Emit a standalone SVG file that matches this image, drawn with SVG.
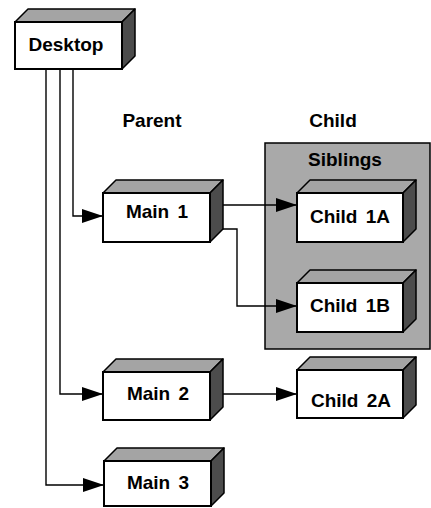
<svg xmlns="http://www.w3.org/2000/svg" width="431" height="508" viewBox="0 0 431 508">
  <defs>
    <marker id="arrow" viewBox="0 0 21 14" refX="21" refY="7" markerWidth="21" markerHeight="14" markerUnits="userSpaceOnUse" orient="auto">
      <path d="M0,0 L21,7 L0,14 Z" fill="#000"/>
    </marker>
  </defs>
  <style>
    .front { fill: #fff; stroke: #000; stroke-width: 2; }
    .top { fill: #a4a4a4; stroke: #000; stroke-width: 1.5; stroke-linejoin: round; }
    .side { fill: #4c4c4c; stroke: #000; stroke-width: 1.5; stroke-linejoin: round; }
    .panel { fill: #a9a9a9; stroke: #000; stroke-width: 1.5; }
    .label { font-family: "Liberation Sans", Arial, sans-serif; font-weight: bold; font-size: 19px; fill: #000; text-anchor: middle; word-spacing: 3px; }
    .wire { fill: none; stroke: #000; stroke-width: 1.4; marker-end: url(#arrow); }
  </style>

  <rect width="431" height="508" fill="#fff"/>

  <!-- sibling grouping panel -->
  <g id="siblings">
    <rect class="panel" x="265" y="143" width="165" height="206"/>
    <text class="label" x="345" y="166" fill="#111">Siblings</text>
  </g>

  <!-- column headings -->
  <g id="headings">
    <text class="label" x="152" y="127">Parent</text>
    <text class="label" x="333" y="127">Child</text>
  </g>

  <!-- connectors -->
  <g id="connectors">
    <path class="wire" d="M46,69 V485 H104"/>
    <path class="wire" d="M60,69 V394 H103"/>
    <path class="wire" d="M73,69 V216 H103"/>
    <path class="wire" d="M223,205 H297"/>
    <path class="wire" d="M223,229 H237 V306 H297"/>
    <path class="wire" d="M223,394 H297"/>
  </g>

  <!-- boxes: top face, right face, front face, label -->
  <g id="desktop">
    <path class="top" d="M15,22 L28,9 L135,9 L122,22 Z"/>
    <path class="side" d="M122,22 L135,9 L135,56 L122,69 Z"/>
    <rect class="front" x="15" y="22" width="107" height="47"/>
    <text class="label" x="66" y="51">Desktop</text>
  </g>

  <g id="main1">
    <path class="top" d="M103,193 L116,180 L223,180 L210,193 Z"/>
    <path class="side" d="M210,193 L223,180 L223,229 L210,242 Z"/>
    <rect class="front" x="103" y="193" width="107" height="49"/>
    <text class="label" x="157" y="218">Main 1</text>
  </g>

  <g id="main2">
    <path class="top" d="M103,372 L116,359 L223,359 L210,372 Z"/>
    <path class="side" d="M210,372 L223,359 L223,407 L210,420 Z"/>
    <rect class="front" x="103" y="372" width="107" height="48"/>
    <text class="label" x="158" y="400">Main 2</text>
  </g>

  <g id="main3">
    <path class="top" d="M104,461 L117,448 L224,448 L211,461 Z"/>
    <path class="side" d="M211,461 L224,448 L224,493 L211,506 Z"/>
    <rect class="front" x="104" y="461" width="107" height="45"/>
    <text class="label" x="158" y="489">Main 3</text>
  </g>

  <g id="child1a">
    <path class="top" d="M297,193 L310,180 L416,180 L403,193 Z"/>
    <path class="side" d="M403,193 L416,180 L416,229 L403,242 Z"/>
    <rect class="front" x="297" y="193" width="106" height="49"/>
    <text class="label" x="350" y="223">Child 1A</text>
  </g>

  <g id="child1b">
    <path class="top" d="M297,283 L310,270 L416,270 L403,283 Z"/>
    <path class="side" d="M403,283 L416,270 L416,319 L403,332 Z"/>
    <rect class="front" x="297" y="283" width="106" height="49"/>
    <text class="label" x="350" y="312">Child 1B</text>
  </g>

  <g id="child2a">
    <path class="top" d="M297,370 L310,357 L416,357 L403,370 Z"/>
    <path class="side" d="M403,370 L416,357 L416,405 L403,418 Z"/>
    <rect class="front" x="297" y="370" width="106" height="48"/>
    <text class="label" x="351" y="407">Child 2A</text>
  </g>
</svg>
